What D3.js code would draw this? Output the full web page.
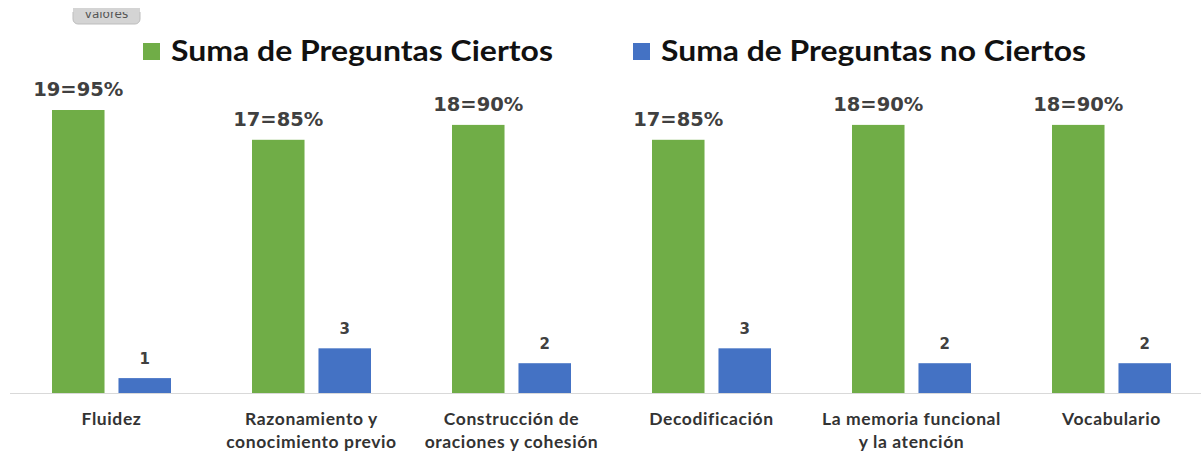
<!DOCTYPE html>
<html><head><meta charset="utf-8">
<script src="https://cdn.jsdelivr.net/npm/d3@7"></script>
<style>body{margin:0;background:#fff}svg{display:block}</style>
</head><body><svg id="c" width="1201" height="452"></svg>
<script>
const categories = [["Fluidez"],["Razonamiento y","conocimiento previo"],["Construcción de","oraciones y cohesión"],["Decodificación"],["La memoria funcional","y la atención"],["Vocabulario"]];
const ciertos = [19,17,18,17,18,18];
const ciertosLabels = ["19=95%","17=85%","18=90%","17=85%","18=90%","18=90%"];
const noCiertos = [1,3,2,3,2,2];
const series = ["Suma de Preguntas Ciertos","Suma de Preguntas no Ciertos"];
const colors = ["#70AD47","#4472C4"];

const svg = d3.select("#c");
const W = 1201, H = 452;
const baseY = 393;
const x0 = d3.scaleBand().domain(d3.range(categories.length)).range([11.5, 1211.5]).paddingInner(0.405).paddingOuter(0.2025);
const x1 = d3.scaleBand().domain([0,1]).range([0, x0.bandwidth()]).paddingInner(0.21);
const y = d3.scaleLinear().domain([0, 19]).range([baseY, 110]);

// "valores" button
const btn = svg.append("g");
btn.append("rect").attr("x",73).attr("y",-8).attr("width",67).attr("height",32).attr("rx",5).attr("fill","#d4d4d4").attr("stroke","#bdbdbd");
btn.append("text").attr("x",106.5).attr("y",18).attr("text-anchor","middle").attr("font-family","'DejaVu Sans', sans-serif").attr("font-size",12).attr("fill","#555").text("valores");
svg.append("rect").attr("x",60).attr("y",0).attr("width",90).attr("height",12).attr("fill","#fff");
svg.append("rect").attr("x",73).attr("y",8).attr("width",67).attr("height",4).attr("fill","#d4d4d4");

// axis line
svg.append("line").attr("x1",10).attr("x2",W).attr("y1",baseY+0.5).attr("y2",baseY+0.5).attr("stroke","#d9d9d9").attr("stroke-width",1);

const g = svg.append("g");
const data = categories.map((c,i)=>({i, vals:[ciertos[i], noCiertos[i]], labs:[ciertosLabels[i], String(noCiertos[i])]}));
const grp = g.selectAll("g.grp").data(data).join("g").attr("transform",d=>`translate(${x0(d.i)},0)`);
grp.selectAll("rect").data(d=>d.vals.map((v,k)=>({v,k}))).join("rect")
  .attr("x",d=>x1(d.k)).attr("width",x1.bandwidth())
  .attr("y",d=>y(d.v)).attr("height",d=>baseY-y(d.v)).attr("fill",d=>colors[d.k]);
grp.selectAll("text.val").data(d=>d.vals.map((v,k)=>({v,k,lab:d.labs[k]}))).join("text").attr("class","val")
  .attr("x",d=>x1(d.k)+x1.bandwidth()/2).attr("y",d=>y(d.v)-14)
  .attr("text-anchor","middle").attr("font-family","'DejaVu Sans', sans-serif").attr("font-weight","bold")
  .attr("font-size",d=>d.k===0?19.5:15).attr("fill","#404040").text(d=>d.lab);

// category labels
const cl = svg.selectAll("text.cat").data(categories).join("text").attr("class","cat")
  .attr("x",(d,i)=>x0(i)+x0.bandwidth()/2).attr("y",425)
  .attr("text-anchor","middle").attr("font-family","Lato, sans-serif").attr("font-weight","bold").attr("font-size",17.5).attr("letter-spacing",0.6).attr("fill","#333");
cl.selectAll("tspan").data(d=>d).join("tspan").attr("x",function(){return this.parentNode.getAttribute("x");}).attr("dy",(d,j)=>j===0?0:23).text(d=>d);

// legend
const leg = svg.append("g");
const legX = [143, 633];
const legLen = [382, 425];
series.forEach((s,k)=>{
  leg.append("rect").attr("x",legX[k]).attr("y",43).attr("width",17).attr("height",17).attr("fill",colors[k]);
  leg.append("text").attr("x",legX[k]+28).attr("y",61).attr("font-family","Lato, sans-serif").attr("font-weight","bold").attr("font-size",29).attr("textLength",legLen[k]).attr("lengthAdjust","spacingAndGlyphs").attr("fill","#111").text(s);
});
</script></body></html>
